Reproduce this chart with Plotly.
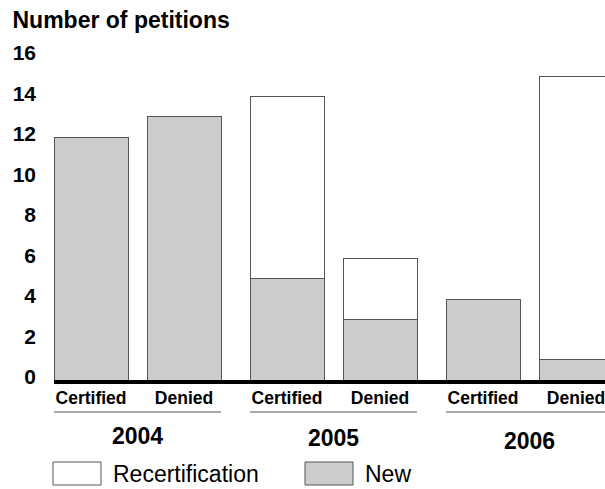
import plotly.graph_objects as go

# ---- data ----
years = ["2004", "2005", "2006"]
outcomes = ["Certified", "Denied"]
new_petitions = [12, 13, 5, 3, 4, 1]          # per (year, outcome)
recertification = [0, 0, 9, 3, 0, 14]         # per (year, outcome)
y_ticks = [0, 2, 4, 6, 8, 10, 12, 14, 16]

# ---- layout constants (pixels) ----
W, H = 605, 489
ML, MR, MT, MB = 54, 0, 46, 109
PLOT_W = W - ML - MR
PLOT_H = H - MT - MB
PX_PER_UNIT = 74.0              # one bar width
GROUP_PITCH = 196 / PX_PER_UNIT
SUB_PITCH = 93 / PX_PER_UNIT
X0 = -0.5
X1 = X0 + PLOT_W / PX_PER_UNIT
Y_MAX = 16.5

GRAY = "#cccccc"
EDGE = "#555555"
FONT = "Liberation Sans, Arial, Helvetica, sans-serif"


def px_x(px):
    return (px - ML) / PLOT_W


def px_y(py):
    return (MT + PLOT_H - py) / PLOT_H


xs, labels = [], []
for gi, yr in enumerate(years):
    for si, oc in enumerate(outcomes):
        xs.append(gi * GROUP_PITCH + si * SUB_PITCH)
        labels.append(oc)

recert_plot = [v if v else None for v in recertification]

fig = go.Figure()
fig.add_trace(go.Bar(
    x=xs, y=new_petitions, name="New", width=1.0,
    marker=dict(color=GRAY, line=dict(color=EDGE, width=1)),
    showlegend=False, hoverinfo="y",
))
fig.add_trace(go.Bar(
    x=xs, y=recert_plot, name="Recertification", width=1.0,
    marker=dict(color="white", line=dict(color=EDGE, width=1)),
    showlegend=False, hoverinfo="y",
))

shapes = []
annotations = []
year_yshift = [0, -2, -5]
for gi, yr in enumerate(years):
    left = gi * GROUP_PITCH - 0.5
    right = gi * GROUP_PITCH + SUB_PITCH + 0.5
    shapes.append(dict(type="line", xref="x", yref="paper",
                       x0=left, x1=right, y0=px_y(412), y1=px_y(412),
                       line=dict(color=EDGE, width=1)))
    annotations.append(dict(x=(left + right) / 2, y=px_y(436), xref="x", yref="paper",
                            text=f"<b>{yr}</b>", showarrow=False,
                            xanchor="center", yanchor="middle", yshift=year_yshift[gi],
                            font=dict(family=FONT, size=23, color="black")))

# legend drawn as boxes + labels
legend_items = [("Recertification", "white", 53), ("New", GRAY, 305)]
for name, col, lx in legend_items:
    shapes.append(dict(type="rect", xref="paper", yref="paper",
                       x0=px_x(lx), x1=px_x(lx + 48), y0=px_y(485), y1=px_y(462),
                       fillcolor=col, line=dict(color=EDGE, width=1)))
    annotations.append(dict(x=px_x(lx + 58), y=px_y(473.5), xref="paper", yref="paper",
                            text=name, showarrow=False, xanchor="left", yanchor="middle",
                            font=dict(family=FONT, size=23, color="black")))

fig.update_layout(
    width=W, height=H,
    margin=dict(l=ML, r=MR, t=MT, b=MB),
    paper_bgcolor="white", plot_bgcolor="white",
    barmode="stack",
    title=dict(text="<b>Number of petitions</b>", x=12.5 / W, xanchor="left",
               xref="container", y=1 - 20 / H, yanchor="middle", yref="container",
               font=dict(family=FONT, size=23, color="black")),
    xaxis=dict(range=[X0, X1], tickvals=xs, ticktext=[f"<b>{t}</b>" for t in labels],
               showgrid=False, zeroline=False, showline=True, linecolor="black", linewidth=4,
               ticks="", ticklabelstandoff=-1, ticklabeloverflow="allow",
               tickfont=dict(family=FONT, size=17.5, color="black"), fixedrange=True),
    yaxis=dict(range=[0, Y_MAX], tickvals=y_ticks, ticktext=[f"<b>{t}</b>" for t in y_ticks],
               showgrid=False, zeroline=False, showline=False, ticks="",
               ticklabelstandoff=17, ticklabelshift=-3,
               tickfont=dict(family=FONT, size=21, color="black"), fixedrange=True),
    shapes=shapes,
    annotations=annotations,
    showlegend=False,
    font=dict(family=FONT, color="black"),
)

fig.write_html("out.html", config={"displayModeBar": False},
               post_script="document.body.style.margin='0';")
